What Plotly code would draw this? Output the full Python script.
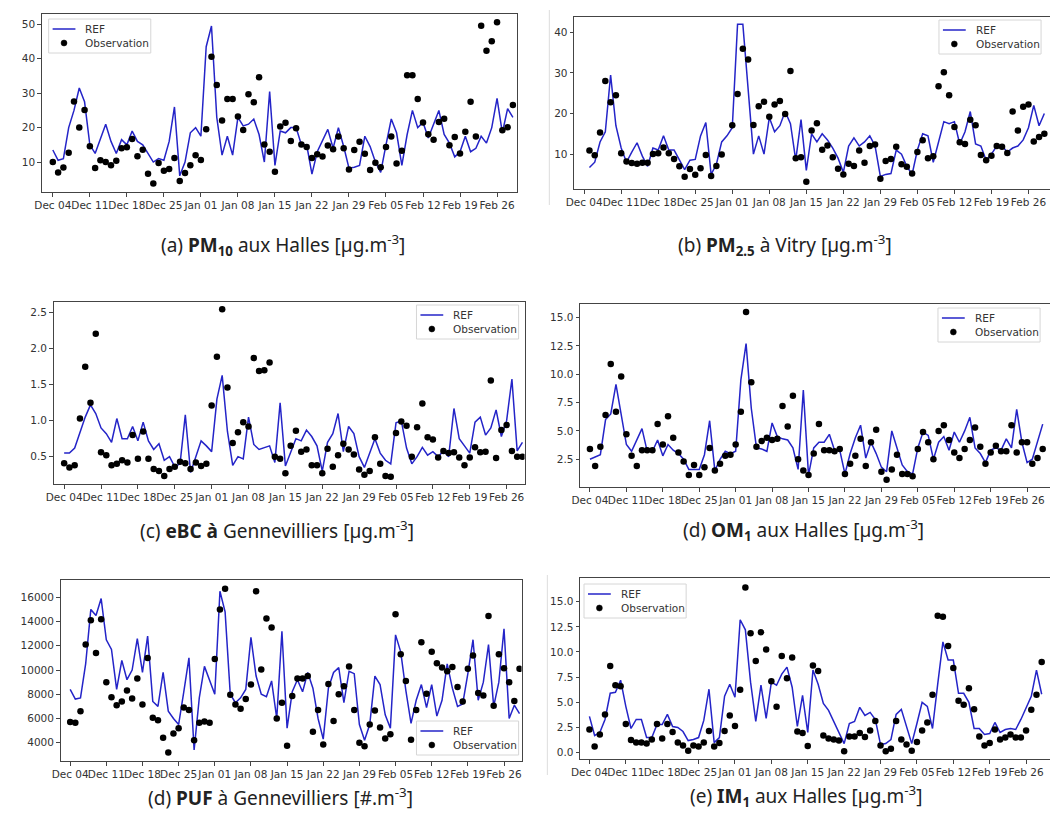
import plotly.graph_objects as go
import pandas as pd

start_date = "2023-12-04"
n_days = 88
dates = pd.date_range(start_date, periods=n_days, freq="D")
tick_dates = pd.date_range(start_date, periods=13, freq="7D")
tick_labels = ["Dec 04", "Dec 11", "Dec 18", "Dec 25", "Jan 01", "Jan 08", "Jan 15",
               "Jan 22", "Jan 29", "Feb 05", "Feb 12", "Feb 19", "Feb 26"]
legend_labels = ["REF", "Observation"]

# (a) PM10 aux Halles
ref_a = [13.5,10.5,11,20,25,31.5,27.5,15,12.5,17, 21,16,12.5,16.5,15,19,16,15,12.5,10,
         11,10.5,16,26,6,10,18.5,20,17.5,43.5, 49.5,23,12,17.5,12,23,20.5,21,22.5,18,
         10,30.5,9,19,18.5,20,20,15,15,6.5, 13,16.5,19.5,14,20,14.5,8.2,8.5,9,17.5,
         14.5,10,7,15,22.5,18.5,9,18,25,20, 21.5,17,21,25,18,15.5,11.5,13,17.5,13,
         14,17.5,15.5,20,28.5,18.5,25.5,23]
obs_a = [10.0,7.0,8.4,12.7,27.6,20.0,25.1,14.6,8.3,10.5, 10.0,9.1,10.4,14.0,14.3,16.7,11.7,13.6,6.6,3.8,
         9.7,7.5,8.0,11.2,4.5,6.8,9.1,12.0,10.6,19.5, 40.6,32.4,22.1,28.3,28.3,23.2,19.3,29.7,27.4,34.6,
         15.1,13.0,7.2,20.3,21.4,16.1,19.8,15.1,14.4,11.2, 12.3,11.6,14.8,13.7,17.4,14.0,7.8,13.5,15.9,12.4,
         7.7,9.8,8.5,14.4,17.4,9.6,13.3,35.2,35.2,28.3, 21.5,18.1,16.5,21.6,22.6,14.9,17.3,12.5,18.8,27.5,
         17.4,49.6,42.3,45.1,50.6,19.2,20.1,26.6]

# (b) PM2.5 a Vitry
ref_b = [None,6.7,8,13,15.5,29.5,17,11.5,8,10.5, 12.8,9.5,7,11.5,11,14.5,11,11,8.5,6.2,
         8.5,8.7,14.5,17.8,5,7.5,13,14.5,16.5,42, 42,27,10,14.5,10,19,15.5,17,20.5,17.5,
         8.5,18.5,6,15,13,15,13.5,11.5,9,5.5, 12,14,12,13,14.5,12,4.5,5,5.2,11,
         10,7,5,11,15,14.5,8,13,18,17.5, 18,12.5,15.5,20.5,12.5,12,8.5,10,12,12,
         10.5,11.5,12,13.5,16.5,22,17,20]
obs_b = [None,10.9,9.7,15.3,28.0,22.8,24.5,10.2,8.2,7.8, 7.6,7.9,7.9,10.0,10.2,11.6,10.2,8.8,7.0,4.4,
         6.3,4.9,6.5,9.8,4.6,7.1,9.9,None,17.1,24.8, 36.0,33.3,17.2,21.8,22.9,19.2,22.2,23.1,19.9,30.5,
         9.0,9.2,3.2,15.8,17.6,11.1,12.1,9.2,6.4,5.0, 7.6,7.1,10.9,7.9,12.0,12.4,3.9,8.3,8.8,11.8,
         7.5,6.9,5.2,10.5,13.4,9.0,9.5,26.7,30.2,24.5, 16.7,12.9,12.5,18.5,17.1,9.8,8.5,9.6,12.0,11.8,
         10.3,20.5,15.8,21.7,22.2,13.1,14.2,15.0]

# (c) eBC a Gennevilliers
ref_c = [0.55,0.55,0.62,0.85,1.05,1.22,1.1,0.9,0.82,0.7, 1.03,0.75,0.75,0.92,0.72,0.98,0.72,0.6,0.68,0.45,
         0.5,0.36,0.4,1.08,0.28,0.5,0.72,0.65,0.57,1.3, 1.63,0.85,0.38,0.5,0.47,1.05,0.67,0.6,0.63,0.65,
         0.42,1.25,0.37,0.55,0.75,0.72,0.87,0.78,0.65,0.3, 0.7,0.82,1.1,0.57,0.92,0.82,0.5,0.35,0.55,0.75,
         0.55,0.45,0.4,0.97,1.0,0.62,0.4,0.5,0.63,0.52, 0.57,0.5,0.58,0.5,1.17,0.75,0.65,0.55,0.98,1.05,
         0.8,0.9,1.15,0.78,1.0,1.58,0.58,0.7]
obs_c = [0.41,0.35,0.38,1.03,1.75,1.25,2.21,0.56,0.52,0.38, 0.40,0.45,0.42,0.80,0.47,0.85,0.47,0.33,0.30,0.23,
         0.33,0.36,0.43,0.41,0.33,0.42,0.37,0.40,1.21,1.89, 2.55,1.46,0.69,0.84,0.98,0.92,1.87,1.69,1.70,1.81,
         0.50,0.47,0.27,0.65,0.86,0.57,0.60,0.38,0.38,0.27, 0.61,0.36,0.52,0.68,0.60,0.53,0.32,0.25,0.30,0.77,
         0.40,0.23,0.22,0.83,0.99,0.93,0.50,0.91,1.24,0.77, 0.74,0.49,0.58,0.55,0.56,0.49,0.38,0.49,0.63,0.56,
         0.57,1.56,0.48,0.87,0.94,0.58,0.50,0.50]

# (d) OM1 aux Halles
ref_d = [2.5,2.7,2.9,6,6.5,9.1,6.5,3.8,3.2,4.2, 5.2,3.2,3.2,4.2,2.8,3.8,3.3,3,2.5,1.6,
         1.6,1.6,2.9,5.9,1.5,2.5,3.2,3,3.2,9.5, 12.7,7,3.5,3.4,3.2,5.7,4.5,4.3,4.2,3.5,
         1.6,8.6,1.1,3.5,4,4,4.7,3.3,3.3,1.2, 3,4.4,5.5,2.6,4,3,1.8,1.4,5,3.5,
         2,1.4,1.2,3.5,4.9,4.6,2.5,4,4.5,3.3, 4.9,4,5,6.2,3.5,3,2.2,3.3,3.5,3.3,
         4.3,3.5,6.9,4,2.2,2.5,4,5.6]
obs_d = [3.4,1.9,3.6,6.4,10.9,6.7,9.8,4.7,2.8,1.9, 3.3,3.3,3.3,5.6,3.8,6.3,4.4,3.1,2.3,1.1,
         2.0,1.1,1.8,3.5,1.5,2.1,2.8,2.9,3.8,6.7, 15.5,9.3,3.6,4.1,4.4,4.2,4.3,7.2,5.4,8.1,
         2.5,1.5,1.1,3.0,5.6,3.3,3.3,3.2,3.4,1.2, 2.1,2.8,4.3,1.9,4.0,5.1,1.4,0.7,1.6,2.9,
         1.2,1.2,1.0,3.4,4.9,4.0,2.5,5.0,5.5,4.2, 3.1,2.6,3.4,4.2,5.3,3.6,2.1,3.1,3.7,3.2,
         3.2,5.5,3.1,4.0,4.0,2.1,2.6,3.4]

# (e) PUF a Gennevilliers
ref_e = [8400,7600,7700,10500,15000,14500,15900,12500,11700,8400, 10800,9200,10000,12600,9800,12800,7400,7000,9800,6600,
         6000,5500,8200,11000,3400,7700,10300,9200,8000,16500, 14800,8000,7300,7700,8400,12700,9500,8000,7800,9100,
         6000,13200,5200,8200,9200,8200,9800,8500,6000,4300, 8500,9800,10200,7300,9900,9700,5500,4200,5500,9500,
         8800,6300,5200,12900,11500,8300,5600,7500,8800,6900, 8800,6200,7500,10500,8500,7000,7200,9700,12500,7500,
         9000,12100,7000,9000,13400,6000,7100,6400]
obs_e = [5700,5650,6600,12100,14100,11400,14200,9000,7750,7100, 7400,8300,7650,9300,7150,11000,6050,5850,4400,3200,
         4750,5200,6900,6700,4200,5650,5750,5650,10900,15000, 16700,7950,7150,6800,7600,8800,16500,10050,14250,13500,
         6000,7300,3750,7850,9300,9300,9500,4900,6700,3850, 8850,5800,8000,8650,10300,6700,4000,3700,5500,6650,
         5250,4350,4700,14600,11300,9100,4250,6700,12300,8050, 11500,10550,10200,9900,10250,8600,7400,10100,11200,8100,
         7900,14450,7050,11300,10150,9000,7450,10100]

# (f) IM1 aux Halles
ref_f = [3.6,1.7,2.0,3.3,5.9,6.0,7.2,4.6,2.4,3.3, 3.3,1.5,1.5,2.8,2.8,3.8,2.6,2.5,2.1,1.2,
         1.3,1.5,3.2,6.3,1.0,1.5,5.6,6.8,5.5,13.2, 12.2,7.0,3.1,6.7,3.4,7.0,6.7,7.8,8.5,6.5,
         2.6,5.7,2.0,8.2,6.8,4.9,4.2,3.1,2.0,0.9, 2.9,3.1,4.5,3.7,4.0,3.3,0.8,0.9,1.3,3.8,
         4.3,2.6,0.9,2.9,5.0,4.6,2.4,6.8,11.0,9.2, 9.2,5.9,5.9,5.0,2.4,2.4,1.8,1.9,3.0,2.0,
         2.3,2.4,2.3,3.3,4.5,5.6,8.2,5.8]
obs_f = [2.3,0.6,1.8,3.8,8.6,6.7,6.6,2.85,1.25,1.0, 1.0,0.9,1.3,2.85,1.4,2.85,2.05,1.0,0.7,0.2,
         0.7,0.6,1.0,2.15,0.6,0.95,2.15,3.7,2.65,6.25, 16.4,11.85,9.1,11.95,10.25,7.1,4.55,9.6,7.4,9.45,
         2.1,1.95,0.65,8.65,8.1,1.7,1.4,1.3,1.2,0.15, 1.6,1.6,1.95,1.55,2.2,3.15,0.7,0.15,0.4,3.15,
         1.3,0.8,0.2,1.05,2.2,3.0,5.75,13.6,13.5,10.6, 8.4,5.15,4.75,6.4,4.3,1.6,0.7,0.95,2.3,1.3,
         1.5,1.8,1.5,1.5,2.2,4.25,5.75,9.0]

captions = [
    "(a) <b>PM<sub>10</sub></b> aux Halles [µg.m<sup>-3</sup>]",
    "(b) <b>PM<sub>2.5</sub></b> à Vitry [µg.m<sup>-3</sup>]",
    "(c) <b>eBC à</b> Gennevilliers [µg.m<sup>-3</sup>]",
    "(d) <b>OM<sub>1</sub></b> aux Halles [µg.m<sup>-3</sup>]",
    "(d) <b>PUF</b> à Gennevilliers [#.m<sup>-3</sup>]",
    "(e) <b>IM<sub>1</sub></b> aux Halles [µg.m<sup>-3</sup>]",
]

W, H = 1050, 813
LINE_COL = "#2424c8"
panels = [
    dict(ref=ref_a, obs=obs_a, box=(33, 512, 14, 192), xr=(-2.1, 87.7), yr=(1.3, 53),
         yt=[10, 20, 30, 40, 50], yfmt="d", leg=(40, 19), cap=(276, 245, "middle"), crop=False),
    dict(ref=ref_b, obs=obs_b, box=(570, 1050, 17, 189), xr=(-1.9, 88.07), yr=(1.4, 43.8),
         yt=[10, 20, 30, 40], yfmt="d", leg=(938, 20), cap=(783, 245, "middle"), crop=True),
    dict(ref=ref_c, obs=obs_c, box=(45, 520, 302, 484), xr=(-2.0, 87.4), yr=(0.12, 2.65),
         yt=[0.5, 1.0, 1.5, 2.0, 2.5], yfmt=".1f", leg=(411, 305), cap=(270, 530, "middle"), crop=False),
    dict(ref=ref_d, obs=obs_d, box=(576, 1050, 304, 487), xr=(-1.9, 88.4), yr=(0.05, 16.2),
         yt=[2.5, 5.0, 7.5, 10.0, 12.5, 15.0], yfmt=".1f", leg=(937, 308), cap=(801, 530, "middle"), crop=True),
    dict(ref=ref_e, obs=obs_e, box=(52, 517, 580, 761), xr=(-1.86, 87.4), yr=(2490, 17430),
         yt=[4000, 6000, 8000, 10000, 12000, 14000, 16000], yfmt="d", leg=(411, 721), cap=(274, 813, "bottom"), crop=False),
    dict(ref=ref_f, obs=obs_f, box=(576, 1050, 578, 759), xr=(-1.8, 88.6), yr=(-0.63, 17.35),
         yt=[0.0, 2.5, 5.0, 7.5, 10.0, 12.5, 15.0], yfmt=".1f", leg=(580, 584), cap=(804, 813, "bottom"), crop=True),
]

t0 = pd.Timestamp(start_date)
def day_str(d):
    return (t0 + pd.Timedelta(days=d)).strftime("%Y-%m-%d %H:%M:%S")

def px(x):
    return x / W

def py(y):
    return 1 - y / H

fig = go.Figure()
axis_col = "#444444"
tick_font = dict(family="DejaVu Sans", size=10.5, color="#333333")
leg_font = dict(family="DejaVu Sans", size=10.5, color="#333333")
layout = dict(width=W, height=H, margin=dict(l=0, r=0, t=0, b=0),
              paper_bgcolor="white", plot_bgcolor="white", showlegend=False)
annotations = []
shapes = [
    dict(type="line", xref="paper", yref="paper", x0=px(545), x1=px(545), y0=py(205), y1=py(10),
         line=dict(color="#dddddd", width=1)),
    dict(type="line", xref="paper", yref="paper", x0=px(543), x1=px(543), y0=py(775), y1=py(575),
         line=dict(color="#dddddd", width=1)),
]

for i, p in enumerate(panels):
    k = "" if i == 0 else str(i + 1)
    xa, ya = "x" + k, "y" + k
    fig.add_trace(go.Scatter(x=dates, y=p["ref"], mode="lines", name=legend_labels[0],
                             line=dict(color=LINE_COL, width=1.5), xaxis=xa, yaxis=ya,
                             connectgaps=False))
    fig.add_trace(go.Scatter(x=dates, y=p["obs"], mode="markers", name=legend_labels[1],
                             marker=dict(color="black", size=6.5), xaxis=xa, yaxis=ya))
    L, R, T, B = p["box"]
    layout["xaxis" + k] = dict(
        domain=[px(L), px(R)], anchor=ya, type="date",
        range=[day_str(p["xr"][0]), day_str(p["xr"][1])],
        tickmode="array", tickvals=list(tick_dates), ticktext=tick_labels,
        ticks="outside", ticklen=3.5, tickwidth=1, tickcolor=axis_col,
        showline=True, linecolor=axis_col, linewidth=1, mirror=True,
        showgrid=False, zeroline=False, tickfont=tick_font, tickangle=0)
    layout["yaxis" + k] = dict(
        domain=[py(B), py(T)], anchor=xa, range=list(p["yr"]),
        tickmode="array", tickvals=p["yt"],
        ticktext=[format(v, p["yfmt"]) if p["yfmt"] != "d" else str(int(v)) for v in p["yt"]],
        ticks="outside", ticklen=3.5, tickwidth=1, tickcolor=axis_col,
        showline=True, linecolor=axis_col, linewidth=1, mirror=not p["crop"],
        showgrid=False, zeroline=False, tickfont=tick_font)

    # legend box (matplotlib style) drawn in paper coordinates
    lx, ly = p["leg"]
    lw, lh = 103, 34
    shapes.append(dict(type="rect", xref="paper", yref="paper",
                       x0=px(lx), x1=px(lx + lw), y0=py(ly + lh), y1=py(ly),
                       line=dict(color="#d6d6d6", width=1), fillcolor="rgba(255,255,255,0.85)",
                       layer="above"))
    shapes.append(dict(type="line", xref="paper", yref="paper",
                       x0=px(lx + 4), x1=px(lx + 27), y0=py(ly + 10), y1=py(ly + 10),
                       line=dict(color=LINE_COL, width=1.5), layer="above"))
    shapes.append(dict(type="circle", xref="paper", yref="paper",
                       x0=px(lx + 12.5), x1=px(lx + 18.5), y0=py(ly + 27), y1=py(ly + 21),
                       line=dict(color="black", width=0.5), fillcolor="black", layer="above"))
    annotations.append(dict(text=legend_labels[0], x=px(lx + 35), y=py(ly + 10), xref="paper", yref="paper",
                            xanchor="left", yanchor="middle", showarrow=False, font=leg_font))
    annotations.append(dict(text=legend_labels[1], x=px(lx + 35), y=py(ly + 24), xref="paper", yref="paper",
                            xanchor="left", yanchor="middle", showarrow=False, font=leg_font))

    cx, cy, anc = p["cap"]
    annotations.append(dict(text=captions[i], x=px(cx), y=py(cy), xref="paper", yref="paper",
                            xanchor="center", yanchor=anc, showarrow=False,
                            font=dict(family="Noto Sans", size=19, color="#222222")))

layout["annotations"] = annotations
layout["shapes"] = shapes
fig.update_layout(**layout)
fig.write_html("out.html", config={"displayModeBar": False},
               post_script="document.body.style.margin='0';document.body.style.overflow='hidden';")
